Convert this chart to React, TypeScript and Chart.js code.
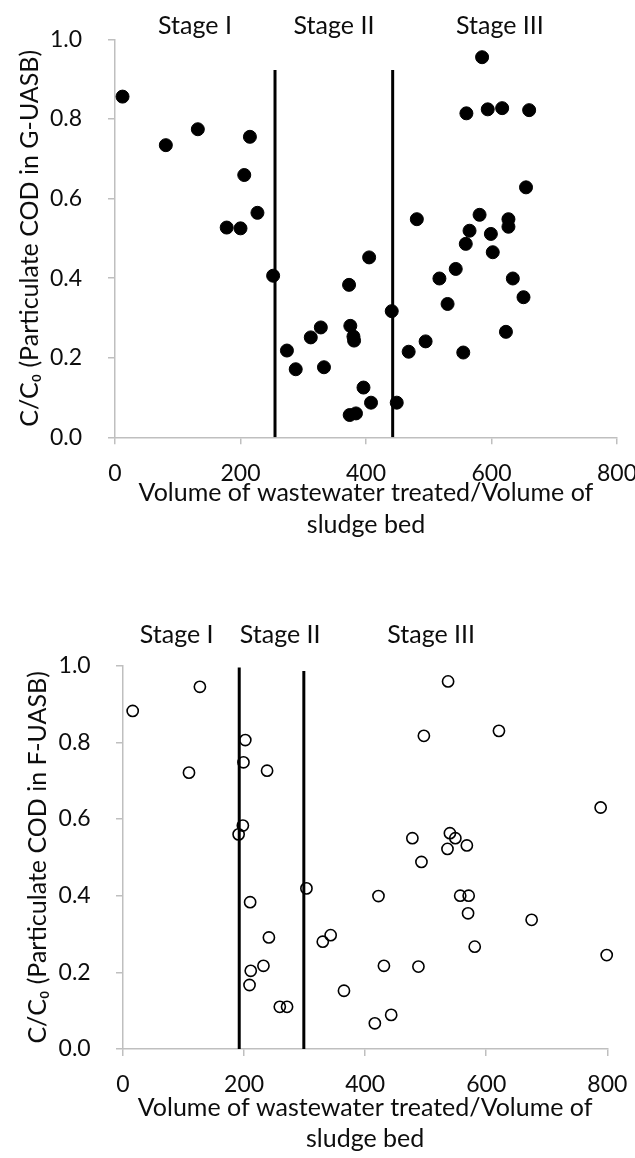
import { useEffect, useRef } from 'react';
import { Chart, registerables } from 'chart.js';

Chart.register(...registerables);

const FONT_FAMILY = 'Lato, "Open Sans", "DejaVu Sans", sans-serif';
const TICK_SIZE = 23;
const LABEL_SIZE = 25;
const TEXT_COLOR = '#0d0d0d';
const AXIS_COLOR = '#bfbfbf';

const xTickValues = [0, 200, 400, 600, 800];
const yTickValues = [0, 0.2, 0.4, 0.6, 0.8, 1.0];
const xTitle = ['Volume of wastewater treated/Volume of', 'sludge bed'];
const stageNames = ['Stage I', 'Stage II', 'Stage III'];

// G-UASB: particulate COD ratio versus treated volume
const gVolume = [
  12, 81, 132, 178, 200, 206, 215, 227, 252, 274, 288, 312, 328, 333, 373, 375,
  380, 381, 374, 384, 396, 405, 408, 441, 449, 468, 481, 495, 517, 530, 543, 555,
  559, 560, 565, 581, 585, 594, 599, 602, 617, 623, 627, 627, 634, 651, 655, 660,
];
const gRatio = [
  0.856, 0.734, 0.774, 0.527, 0.525, 0.659, 0.755, 0.564, 0.406, 0.218, 0.171, 0.251, 0.276, 0.176, 0.383, 0.280,
  0.253, 0.243, 0.056, 0.060, 0.125, 0.452, 0.087, 0.317, 0.087, 0.215, 0.548, 0.241, 0.399, 0.335, 0.423, 0.213,
  0.486, 0.814, 0.519, 0.559, 0.955, 0.824, 0.511, 0.465, 0.827, 0.265, 0.548, 0.529, 0.399, 0.352, 0.628, 0.822,
];
const gStageBoundaries = [255, 442.5];
const gBoundaryTops = [0.923, 0.923];
const gStageLabelX = [127.5, 349, 613.5];

// F-UASB: particulate COD ratio versus treated volume
const fVolume = [
  16, 109, 127, 191, 198, 199, 202, 209, 210, 211, 232, 238, 241, 259, 271, 303,
  330, 343, 365, 416, 422, 431, 443, 478, 488, 493, 497, 536, 537, 540, 549, 557,
  568, 570, 571, 581, 621, 675, 789, 799,
];
const fRatio = [
  0.882, 0.721, 0.945, 0.560, 0.583, 0.748, 0.806, 0.167, 0.383, 0.204, 0.217, 0.726, 0.291, 0.110, 0.110, 0.419,
  0.280, 0.297, 0.152, 0.067, 0.399, 0.217, 0.089, 0.550, 0.215, 0.488, 0.817, 0.522, 0.959, 0.563, 0.550, 0.400,
  0.531, 0.354, 0.400, 0.267, 0.830, 0.337, 0.630, 0.245,
];
const fStageBoundaries = [192, 298.7];
const fBoundaryTops = [0.995, 0.986];
const fStageLabelX = [88.6, 259.7, 509];

type Frame = {
  width: number;
  height: number;
  left: number;
  right: number;
  top: number;
  bottom: number;
  yTitlePad: number;
  yTickPad: number;
  xTickPad: number;
  xTitlePadBottom: number;
  stageOffset: number;
};

type PanelProps = {
  volume: number[];
  ratio: number[];
  boundaries: number[];
  boundaryTops: number[];
  stageX: number[];
  filled: boolean;
  yTitle: string;
  frame: Frame;
};

const font = (size: number, extra: object = {}) => ({ family: FONT_FAMILY, size, ...extra });

function stageLabelPlugin(xs: number[], offset: number) {
  return {
    id: 'stageLabels',
    afterDraw(chart: any) {
      const { ctx, chartArea, scales } = chart;
      ctx.save();
      ctx.font = `${LABEL_SIZE}px ${FONT_FAMILY}`;
      ctx.fillStyle = TEXT_COLOR;
      ctx.textAlign = 'center';
      ctx.textBaseline = 'middle';
      stageNames.forEach((name, i) => {
        ctx.fillText(name, scales.x.getPixelForValue(xs[i]), chartArea.top - offset);
      });
      ctx.restore();
    },
  };
}

function ScatterPanel({ volume, ratio, boundaries, boundaryTops, stageX, filled, yTitle, frame }: PanelProps) {
  const canvasRef = useRef<HTMLCanvasElement | null>(null);

  useEffect(() => {
    const canvas = canvasRef.current;
    if (!canvas) return;

    const axisGrid = {
      display: true,
      drawOnChartArea: false,
      drawTicks: true,
      tickLength: 7,
      color: AXIS_COLOR,
      lineWidth: 1.5,
    };
    const axisBorder = { display: true, color: AXIS_COLOR, width: 1.5 };

    const boundarySets = boundaries.map((b, i) => ({
      type: 'scatter' as const,
      data: [
        { x: b, y: 0 },
        { x: b, y: boundaryTops[i] },
      ],
      showLine: true,
      borderColor: '#000000',
      borderWidth: 3,
      pointRadius: 0,
      order: 2,
    }));

    const chart = new Chart(canvas, {
      type: 'scatter',
      data: {
        datasets: [
          ...boundarySets,
          {
            type: 'scatter' as const,
            data: volume.map((x, i) => ({ x, y: ratio[i] })),
            pointRadius: filled ? 6.5 : 5.6,
            pointBorderWidth: filled ? 1 : 1.6,
            pointBackgroundColor: filled ? '#000000' : 'rgba(0,0,0,0)',
            pointBorderColor: '#000000',
            showLine: false,
            clip: false,
            order: 1,
          },
        ],
      },
      options: {
        responsive: false,
        maintainAspectRatio: false,
        devicePixelRatio: 1,
        animation: false,
        layout: {
          padding: { left: 0, right: frame.width - frame.right, top: frame.top, bottom: 0 },
        },
        plugins: {
          legend: { display: false },
          tooltip: { enabled: false },
        },
        scales: {
          x: {
            type: 'linear',
            min: 0,
            max: 800,
            afterBuildTicks: (s: any) => {
              s.ticks = xTickValues.map((v) => ({ value: v }));
            },
            afterFit: (s: any) => {
              s.height = frame.height - frame.bottom;
              s.paddingLeft = 0;
              s.paddingRight = 0;
            },
            ticks: {
              font: font(TICK_SIZE),
              color: TEXT_COLOR,
              padding: frame.xTickPad,
              maxRotation: 0,
              autoSkip: false,
              callback: (v: any) => String(v),
            },
            grid: axisGrid,
            border: axisBorder,
            title: {
              display: true,
              text: xTitle,
              font: font(LABEL_SIZE, { lineHeight: 31.5 / LABEL_SIZE }),
              color: TEXT_COLOR,
              padding: { top: 0, bottom: frame.xTitlePadBottom },
            },
          },
          y: {
            type: 'linear',
            min: 0,
            max: 1,
            afterBuildTicks: (s: any) => {
              s.ticks = yTickValues.map((v) => ({ value: v }));
            },
            afterFit: (s: any) => {
              s.width = frame.left;
              s.paddingTop = 0;
              s.paddingBottom = 0;
            },
            ticks: {
              font: font(TICK_SIZE),
              color: TEXT_COLOR,
              padding: frame.yTickPad,
              autoSkip: false,
              callback: (v: any) => Number(v).toFixed(1),
            },
            grid: axisGrid,
            border: axisBorder,
            title: {
              display: true,
              text: yTitle,
              font: font(LABEL_SIZE),
              color: TEXT_COLOR,
              padding: { top: frame.yTitlePad, bottom: 0 },
            },
          },
        },
      },
      plugins: [stageLabelPlugin(stageX, frame.stageOffset)],
    } as any);

    return () => chart.destroy();
  }, [volume, ratio, boundaries, boundaryTops, stageX, filled, yTitle, frame]);

  return (
    <canvas
      ref={canvasRef}
      width={frame.width}
      height={frame.height}
      style={{ display: 'block', width: frame.width, height: frame.height }}
    />
  );
}

const topFrame: Frame = {
  width: 635,
  height: 560,
  left: 115,
  right: 617,
  top: 39.3,
  bottom: 437.3,
  yTitlePad: 15,
  yTickPad: 26,
  xTickPad: 15,
  xTitlePadBottom: 19.5,
  stageOffset: 13.7,
};

const bottomFrame: Frame = {
  width: 635,
  height: 568,
  left: 123,
  right: 607.3,
  top: 75.7,
  bottom: 459,
  yTitlePad: 23,
  yTickPad: 25.3,
  xTickPad: 15,
  xTitlePadBottom: 2.85,
  stageOffset: 30.3,
};

export default function App() {
  return (
    <div style={{ position: 'absolute', left: 0, top: 0, width: 635, height: 1158, background: '#ffffff' }}>
      <div style={{ position: 'absolute', left: 0, top: 0 }}>
        <ScatterPanel
          volume={gVolume}
          ratio={gRatio}
          boundaries={gStageBoundaries}
          boundaryTops={gBoundaryTops}
          stageX={gStageLabelX}
          filled={true}
          yTitle="C/C₀ (Particulate COD in G-UASB)"
          frame={topFrame}
        />
      </div>
      <div style={{ position: 'absolute', left: 0, top: 590 }}>
        <ScatterPanel
          volume={fVolume}
          ratio={fRatio}
          boundaries={fStageBoundaries}
          boundaryTops={fBoundaryTops}
          stageX={fStageLabelX}
          filled={false}
          yTitle="C/C₀ (Particulate COD in F-UASB)"
          frame={bottomFrame}
        />
      </div>
    </div>
  );
}
